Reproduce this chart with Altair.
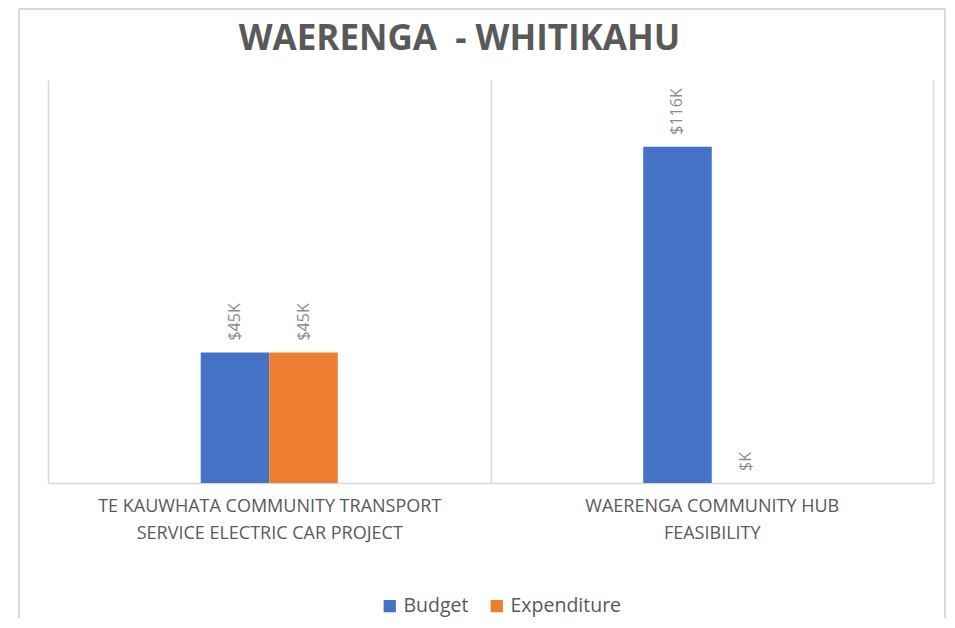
import altair as alt
import pandas as pd

categories = [
    "TE KAUWHATA COMMUNITY TRANSPORT|SERVICE ELECTRIC CAR PROJECT",
    "WAERENGA COMMUNITY HUB|FEASIBILITY",
]
series = ["Budget", "Expenditure"]
budget_k = [45, 116]
expenditure_k = [45, 0]
colors = ["#4472C4", "#ED7D31"]

rows = []
for i, c in enumerate(categories):
    for s, vals in zip(series, [budget_k, expenditure_k]):
        v = vals[i]
        rows.append({"category": c, "series": s, "value": v,
                     "label": f"${v}K" if v else "$K"})
df = pd.DataFrame(rows)

# empty slots on either side of each group (gap width in Excel terms)
offset_domain = ["_g1", "_g2"] + series + ["_g3", "_g4"]

x = alt.X("category:N", sort=categories, title=None,
          scale=alt.Scale(paddingInner=0, paddingOuter=0),
          axis=alt.Axis(labelExpr="split(datum.label, '|')", labelAngle=0,
                        labelFont="Open Sans", labelFontSize=18, labelColor="#595959",
                        labelLineHeight=27, labelPadding=14, labelLimit=0,
                        ticks=False, grid=True, tickBand="extent",
                        gridColor="#d9d9d9", gridWidth=1.5,
                        domainColor="#d9d9d9", domainWidth=1.5))
xo = alt.XOffset("series:N",
                 scale=alt.Scale(domain=offset_domain, paddingInner=0, paddingOuter=0.228))
y = alt.Y("value:Q", scale=alt.Scale(domain=[0, 139]), axis=None)

base = alt.Chart(df)
bars = base.mark_bar().encode(
    x=x, xOffset=xo, y=y,
    color=alt.Color("series:N", sort=series,
                    scale=alt.Scale(domain=series, range=colors),
                    legend=alt.Legend(title=None, orient="none", direction="horizontal",
                                      legendX=332, legendY=516,
                                      symbolType="square", symbolSize=150,
                                      symbolStrokeWidth=0,
                                      labelFont="Open Sans", labelFontSize=19.5,
                                      labelColor="#595959",
                                      columnPadding=18)),
)
texts = base.mark_text(angle=270, align="left", baseline="middle", dx=12,
                       font="Open Sans", fontSize=16, color="#8c8c8c").encode(
    x=x, xOffset=xo, y=y, text="label:N"
)

# light chart-area frame (left, top, right edges)
one = pd.DataFrame({"k": [0]})
def edge(x1, x2, y1, y2):
    return alt.Chart(one).mark_rule(color="#d9d9d9", strokeWidth=2).encode(
        x=alt.value(x1), x2=alt.value(x2), y=alt.value(y1), y2=alt.value(y2))

frame_left = edge(-29, -29, -71, 538)
frame_top = edge(-29, 897, -71, -71)
frame_right = edge(897, 897, -71, 538)

chart = alt.layer(frame_left, frame_top, frame_right, bars, texts).properties(
    width=885, height=403,
    title=alt.TitleParams("WAERENGA\u00a0 - WHITIKAHU", font="Open Sans", fontSize=35,
                          fontWeight="bold", color="#595959", anchor="middle",
                          frame="group", offset=-49, dx=-31),
    padding={"left": 10, "top": 0, "right": 0, "bottom": 0},
).configure_view(stroke=None)

chart.save("out.html", embed_options={"renderer": "svg", "actions": False})
